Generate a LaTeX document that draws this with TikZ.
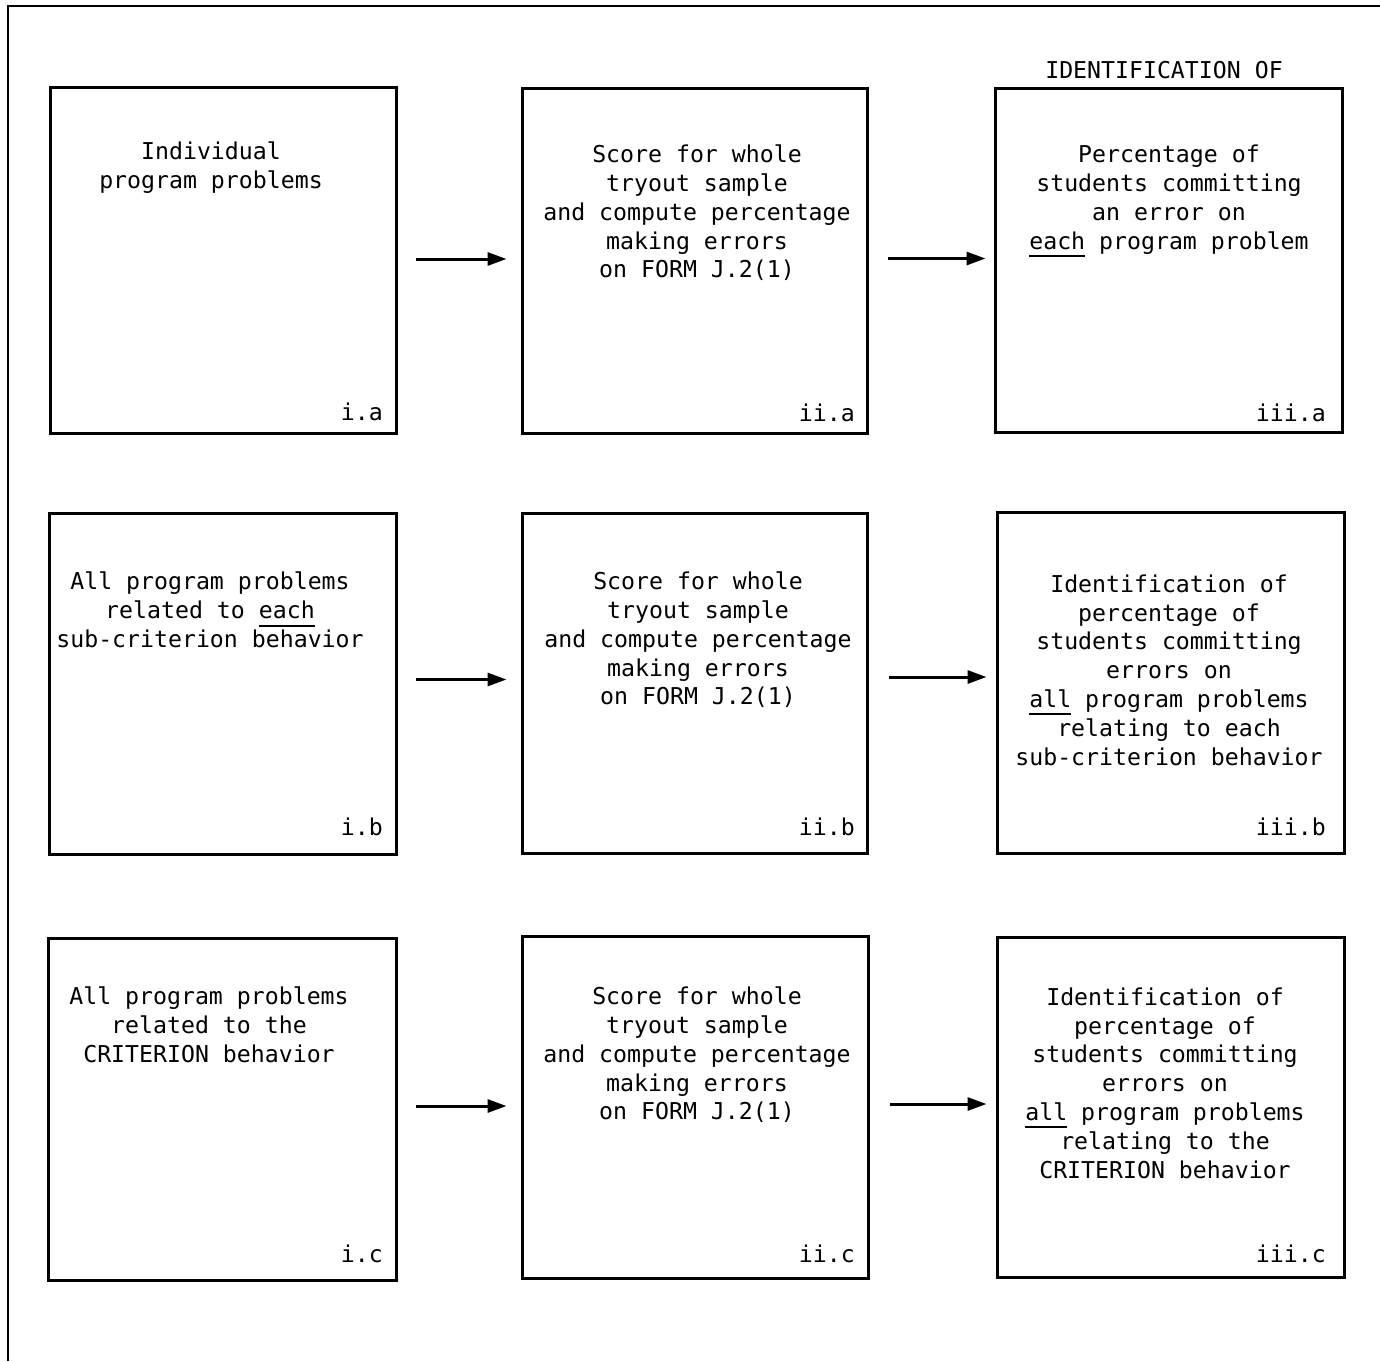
\documentclass[tikz,border=0pt]{standalone}
\usepackage{fontspec}
\setmainfont{DejaVu Sans Mono}
\usetikzlibrary{arrows.meta}
\newcommand{\ulw}[1]{\setbox0\hbox{#1}\rlap{\rule[-8pt]{\wd0}{2.2pt}}\box0\relax}
\tikzset{
  box/.style={draw, line width=3pt, inner sep=0pt},
  txt/.style={align=center, inner sep=0pt, font=\fontsize{23.2}{28.8}\selectfont},
  lbl/.style={inner sep=0pt, font=\fontsize{23.2}{28.8}\selectfont},
  arr/.style={line width=3pt, -{Triangle[length=19pt,width=13pt]}}
}
\begin{document}
\begin{tikzpicture}[x=1pt,y=-1pt]
\useasboundingbox (0,0) rectangle (1380,1361);
% frame
\draw[line width=2.4pt] (8,1361) -- (8,6) -- (1380,6);
% boxes
\node[box, minimum width=346pt, minimum height=346pt] (ia)   at (223,260) {};
\node[box, minimum width=345pt, minimum height=345pt] (iia)  at (694.5,260.5) {};
\node[box, minimum width=347pt, minimum height=344pt] (iiia) at (1168.5,260) {};
\node[box, minimum width=347pt, minimum height=341pt] (ib)   at (222.5,683.5) {};
\node[box, minimum width=345pt, minimum height=340pt] (iib)  at (694.5,683) {};
\node[box, minimum width=347pt, minimum height=341pt] (iiib) at (1170.5,682.5) {};
\node[box, minimum width=348pt, minimum height=342pt] (ic)   at (222,1109) {};
\node[box, minimum width=346pt, minimum height=342pt] (iic)  at (695,1107) {};
\node[box, minimum width=347pt, minimum height=340pt] (iiic) at (1170.5,1107) {};
% title
\node[lbl] (title) at (1164,70) {IDENTIFICATION OF};
% texts
\node[txt] (tia) at (211,168) {Individual\\program problems};
\node[txt] (tiia) at (697,213) {Score for whole\\tryout sample\\and compute percentage\\making errors\\on FORM J.2(1)};
\node[txt] (tiiia) at (1169,201) {Percentage of\\students committing\\an error on\\\ulw{each} program problem};
\node[txt] (tib) at (210,610) {All program problems\\related to \ulw{each}\\sub-criterion behavior};
\node[txt] (tiib) at (698,640) {Score for whole\\tryout sample\\and compute percentage\\making errors\\on FORM J.2(1)};
\node[txt] (tiiib) at (1169,670) {Identification of\\percentage of\\students committing\\errors on\\\ulw{all} program problems\\relating to each\\sub-criterion behavior};
\node[txt] (tic) at (209,1025) {All program problems\\related to the\\CRITERION behavior};
\node[txt] (tiic) at (697,1055) {Score for whole\\tryout sample\\and compute percentage\\making errors\\on FORM J.2(1)};
\node[txt] (tiiic) at (1165,1083) {Identification of\\percentage of\\students committing\\errors on\\\ulw{all} program problems\\relating to the\\CRITERION behavior};
% labels
\node[lbl, anchor=east] (lia)   at (383,412) {i.a};
\node[lbl, anchor=east] (liia)  at (855,413) {ii.a};
\node[lbl, anchor=east] (liiia) at (1326,413) {iii.a};
\node[lbl, anchor=east] (lib)   at (383,827) {i.b};
\node[lbl, anchor=east] (liib)  at (855,827) {ii.b};
\node[lbl, anchor=east] (liiib) at (1326,827) {iii.b};
\node[lbl, anchor=east] (lic)   at (383,1254) {i.c};
\node[lbl, anchor=east] (liic)  at (855,1254) {ii.c};
\node[lbl, anchor=east] (liiic) at (1326,1254) {iii.c};
% arrows
\draw[arr] ([xshift=18pt,yshift=1pt]ia.east) -- ([xshift=-14pt,yshift=1pt]ia.east -| iia.west);
\draw[arr] ([xshift=19pt,yshift=2pt]iia.east) -- ([xshift=-8pt,yshift=2pt]iia.east -| iiia.west);
\draw[arr] ([xshift=18pt,yshift=4pt]ib.east) -- ([xshift=-14pt,yshift=4pt]ib.east -| iib.west);
\draw[arr] ([xshift=20pt,yshift=6pt]iib.east) -- ([xshift=-9pt,yshift=6pt]iib.east -| iiib.west);
\draw[arr] ([xshift=18pt,yshift=3pt]ic.east) -- ([xshift=-14pt,yshift=3pt]ic.east -| iic.west);
\draw[arr] ([xshift=20pt,yshift=3pt]iic.east) -- ([xshift=-9pt,yshift=3pt]iic.east -| iiic.west);
\end{tikzpicture}
\end{document}
